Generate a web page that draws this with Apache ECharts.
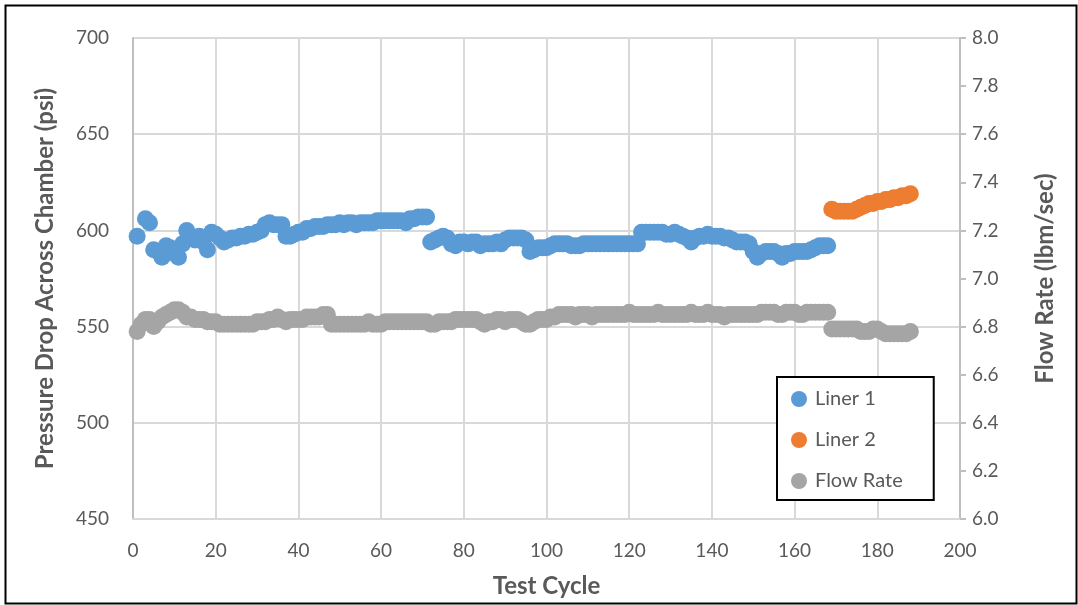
<!DOCTYPE html>
<html>
<head>
<meta charset="utf-8">
<script src="https://cdn.jsdelivr.net/npm/echarts@6/dist/echarts.min.js"></script>
<style>
html,body{margin:0;padding:0;background:#fff;}
#c{width:1078px;height:605px;}
</style>
</head>
<body>
<div id="c"></div>
<script>
// Test cycle where each series starts
const liner1Start = 1;
const liner2Start = 169;
const flowStart = 1;

// Liner 1 pressure drop (psi), cycles 1..168 (null = no point)
const liner1 = [
597,null,606,604,590,589,586,592,591,588,586,593,600,596,595,597,594,590,599,598,
596,594,595,596,596,597,597,598,598,599,600,603,604,603,603,603,597,597,598,599,
599,601,601,602,602,602,603,603,603,604,603,604,604,603,604,604,604,604,605,605,
605,605,605,605,605,604,606,606,607,607,607,594,595,596,597,596,593,592,594,594,
593,594,594,592,593,593,593,594,593,595,596,596,596,596,595,589,590,591,591,591,
592,593,593,593,593,592,592,592,593,593,593,593,593,593,593,593,593,593,593,593,
593,593,599,599,599,599,599,599,598,598,599,598,597,596,594,596,597,597,598,597,
597,597,596,596,595,594,594,594,593,589,586,588,589,589,589,588,586,588,588,589,
589,589,589,590,591,592,592,592
];

// Liner 2 pressure drop (psi), cycles 169..188
const liner2 = [611,610,610,610,610,610,611,612,613,614,614,615,615,616,616,617,617,618,618,619];

// Flow rate (lbm/sec), cycles 1..188
const flowRate = [
6.78,6.81,6.83,6.83,6.80,6.82,6.84,6.85,6.86,6.87,6.87,6.86,6.84,6.84,6.83,6.83,6.83,6.82,6.82,6.82,
6.81,6.81,6.81,6.81,6.81,6.81,6.81,6.81,6.81,6.82,6.82,6.82,6.83,6.83,6.84,6.83,6.82,6.83,6.83,6.83,
6.83,6.84,6.84,6.84,6.84,6.85,6.85,6.81,6.81,6.81,6.81,6.81,6.81,6.81,6.81,6.81,6.82,6.81,6.81,6.81,
6.82,6.82,6.82,6.82,6.82,6.82,6.82,6.82,6.82,6.82,6.82,6.81,6.81,6.82,6.82,6.82,6.82,6.83,6.83,6.83,
6.83,6.83,6.83,6.82,6.81,6.82,6.82,6.83,6.83,6.82,6.83,6.83,6.83,6.82,6.81,6.81,6.82,6.83,6.83,6.83,
6.84,6.84,6.85,6.85,6.85,6.85,6.84,6.85,6.85,6.85,6.84,6.85,6.85,6.85,6.85,6.85,6.85,6.85,6.85,6.86,
6.85,6.85,6.85,6.85,6.85,6.85,6.86,6.85,6.85,6.85,6.85,6.85,6.85,6.85,6.86,6.85,6.85,6.85,6.86,6.85,
6.85,6.85,6.84,6.85,6.85,6.85,6.85,6.85,6.85,6.85,6.85,6.86,6.86,6.86,6.86,6.85,6.85,6.86,6.86,6.86,
6.85,6.85,6.86,6.86,6.86,6.86,6.86,6.86,6.79,6.79,6.79,6.79,6.79,6.79,6.79,6.78,6.78,6.78,6.79,6.79,
6.78,6.77,6.77,6.77,6.77,6.77,6.77,6.78
];

// Axis settings
const xTicks = {min: 0, max: 200, interval: 20};
const leftTicks = {min: 450, max: 700, interval: 50};
const rightTicks = {min: 6.0, max: 8.0, interval: 0.2};

function pairs(arr, start) {
  const out = [];
  arr.forEach((v, i) => { if (v !== null) out.push([start + i, v]); });
  return out;
}

const FONT = 'Lato';
const GREY = '#595959';
const chart = echarts.init(document.getElementById('c'), null, {renderer: 'canvas'});
chart.setOption({
  animation: false,
  backgroundColor: '#ffffff',
  textStyle: {fontFamily: FONT},
  grid: {left: 133, right: 118, top: 38, bottom: 86},
  graphic: [{
    type: 'rect', left: 3, top: 3, z: -1,
    shape: {x: 0, y: 0, width: 1071, height: 598},
    style: {fill: 'none', stroke: '#000', lineWidth: 2}
  }],
  legend: {
    left: 777, top: 377,
    orient: 'vertical',
    backgroundColor: '#fff',
    borderColor: '#000', borderWidth: 2,
    padding: [12, 31, 9, 14],
    itemGap: 21,
    itemWidth: 16, itemHeight: 16,
    icon: 'circle',
    textStyle: {fontFamily: FONT, fontSize: 20, lineHeight: 20, color: GREY, padding: [0, 0, 0, 3]},
    data: ['Liner 1', 'Liner 2', 'Flow Rate']
  },
  xAxis: {
    type: 'value', min: xTicks.min, max: xTicks.max, interval: xTicks.interval,
    name: 'Test Cycle', nameLocation: 'middle', nameGap: 55,
    nameTextStyle: {fontFamily: FONT, fontSize: 24, fontWeight: 'bold', color: GREY},
    axisLine: {show: true, lineStyle: {color: '#d9d9d9', width: 2}},
    axisTick: {show: false},
    axisLabel: {fontFamily: FONT, fontSize: 19, color: GREY, margin: 22},
    splitLine: {show: true, lineStyle: {color: '#d9d9d9', width: 2}}
  },
  yAxis: [{
    type: 'value', min: leftTicks.min, max: leftTicks.max, interval: leftTicks.interval,
    name: 'Pressure Drop Across Chamber (psi)', nameLocation: 'middle', nameGap: 76,
    nameTextStyle: {fontFamily: FONT, fontSize: 24, fontWeight: 'bold', color: GREY},
    axisLine: {show: true, lineStyle: {color: '#bfbfbf', width: 2}},
    axisTick: {show: false},
    axisLabel: {fontFamily: FONT, fontSize: 19, color: GREY, margin: 24},
    splitLine: {show: true, lineStyle: {color: '#d9d9d9', width: 2}}
  }, {
    type: 'value', min: rightTicks.min, max: rightTicks.max, interval: rightTicks.interval,
    position: 'right',
    name: 'Flow Rate (lbm/sec)', nameLocation: 'middle', nameGap: 73, nameRotate: 90,
    nameTextStyle: {fontFamily: FONT, fontSize: 24, fontWeight: 'bold', color: GREY},
    axisLine: {show: true, lineStyle: {color: '#bfbfbf', width: 2}},
    axisTick: {show: true, length: 6, lineStyle: {color: '#bfbfbf', width: 2}},
    axisLabel: {fontFamily: FONT, fontSize: 19, color: GREY, margin: 12,
      formatter: v => v.toFixed(1)},
    splitLine: {show: false}
  }],
  series: [{
    name: 'Liner 1', type: 'scatter', yAxisIndex: 0,
    symbol: 'circle', symbolSize: 17,
    itemStyle: {color: '#5B9BD5', opacity: 1},
    data: pairs(liner1, liner1Start)
  }, {
    name: 'Liner 2', type: 'scatter', yAxisIndex: 0,
    symbol: 'circle', symbolSize: 17,
    itemStyle: {color: '#ED7D31', opacity: 1},
    data: pairs(liner2, liner2Start)
  }, {
    name: 'Flow Rate', type: 'scatter', yAxisIndex: 1,
    symbol: 'circle', symbolSize: 17,
    itemStyle: {color: '#A5A5A5', opacity: 1},
    data: pairs(flowRate, flowStart)
  }]
});
</script>
</body>
</html>
